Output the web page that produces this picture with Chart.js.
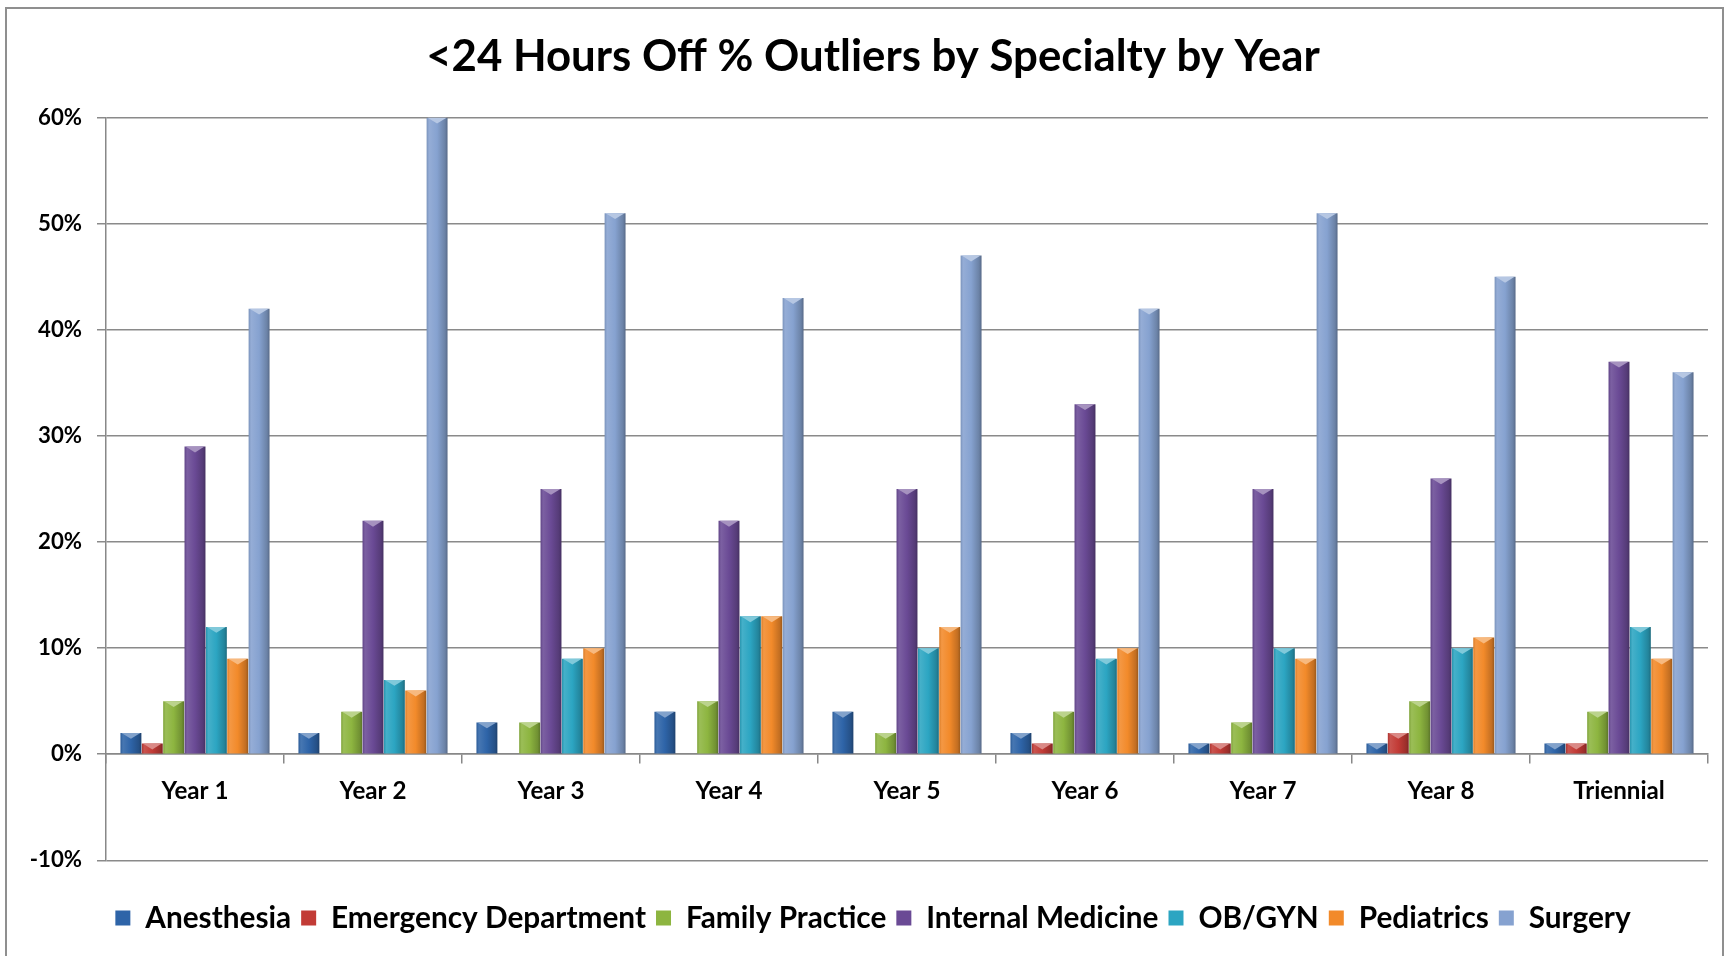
<!DOCTYPE html>
<html><head><meta charset="utf-8">
<script src="https://cdn.jsdelivr.net/npm/chart.js@4.4.0/dist/chart.umd.min.js"></script>
<style>
html,body{margin:0;padding:0;background:#fff;width:1732px;height:956px;overflow:hidden}
#frame{position:absolute;left:5px;top:7px;width:1719px;height:980px;border:2px solid #8f8f8f;box-sizing:border-box}
#wrap{position:absolute;left:0;top:0;width:1732px;height:956px}
</style></head><body>
<div id="frame"></div>
<div id="wrap"><canvas id="c" width="1732" height="956"></canvas></div>
<script>
const categories = ['Year 1','Year 2','Year 3','Year 4','Year 5','Year 6','Year 7','Year 8','Triennial'];
const seriesNames = ['Anesthesia','Emergency Department','Family Practice','Internal Medicine','OB/GYN','Pediatrics','Surgery'];
const anesthesia          = [2, 2, 3, 4, 4, 2, 1, 1, 1];
const emergencyDepartment = [1, 0, 0, 0, 0, 1, 1, 2, 1];
const familyPractice      = [5, 4, 3, 5, 2, 4, 3, 5, 4];
const internalMedicine    = [29, 22, 25, 22, 25, 33, 25, 26, 37];
const obGyn               = [12, 7, 9, 13, 10, 9, 10, 10, 12];
const pediatrics          = [9, 6, 10, 13, 12, 10, 9, 11, 9];
const surgery             = [42, 60, 51, 43, 47, 42, 51, 45, 36];
const yTickValues = [-10, 0, 10, 20, 30, 40, 50, 60];
const seriesColors = ['#2E64A8','#C23B36','#8DB540','#6A4A95','#2CA5C2','#F28A2A','#86A2D0'];
const seriesValues = [anesthesia, emergencyDepartment, familyPractice, internalMedicine, obGyn, pediatrics, surgery];

function fitSize(text, family, weight, target){
  const c = document.createElement('canvas').getContext('2d');
  c.font = weight + ' 100px ' + family;
  return 100 * target / c.measureText(text).width;
}
function shade(hex, amt){
  const n = parseInt(hex.slice(1),16);
  let r=(n>>16)&255, g=(n>>8)&255, b=n&255;
  if (amt>=0){ r=r+(255-r)*amt; g=g+(255-g)*amt; b=b+(255-b)*amt; }
  else { r=r*(1+amt); g=g*(1+amt); b=b*(1+amt); }
  return 'rgb('+Math.round(r)+','+Math.round(g)+','+Math.round(b)+')';
}

const titleSize = fitSize('<24 Hours Off % Outliers by Specialty by Year','Lato','bold',894);
const legendSize = fitSize('Anesthesia','Lato','bold',146);
const xSize = fitSize('Year 1','Lato','bold',67);
const ySize = fitSize('60%','Lato','bold',44);

const bevelPlugin = {
  id:'bevel',
  beforeDatasetsDraw(chart){
    const ctx = chart.ctx;
    chart.data.datasets.forEach((ds, di) => {
      const meta = chart.getDatasetMeta(di);
      meta.data.forEach(el => {
        const p = el.getProps(['x','width'], true);
        const left = p.x - p.width/2;
        const g = ctx.createLinearGradient(left, 0, left + p.width, 0);
        g.addColorStop(0, shade(ds.baseColor, -0.1));
        g.addColorStop(0.12, shade(ds.baseColor, 0.12));
        g.addColorStop(0.5, ds.baseColor);
        g.addColorStop(0.88, shade(ds.baseColor, -0.2));
        g.addColorStop(1, shade(ds.baseColor, -0.35));
        el.options = Object.assign({}, el.options, {backgroundColor: g});
      });
    });
  },
  afterDatasetsDraw(chart){
    const ctx = chart.ctx;
    ctx.save();
    chart.data.datasets.forEach((ds, di) => {
      const meta = chart.getDatasetMeta(di);
      meta.data.forEach(el => {
        const p = el.getProps(['x','y','base','width'], true);
        const h = p.base - p.y;
        if (h < 2) return;
        const left = p.x - p.width/2, right = p.x + p.width/2;
        const d = Math.min(h, p.width*0.28);
        ctx.beginPath();
        ctx.moveTo(left+1, p.y);
        ctx.lineTo(right-1, p.y);
        ctx.lineTo(p.x, p.y + d);
        ctx.closePath();
        ctx.fillStyle = shade(ds.baseColor, 0.4);
        ctx.fill();
      });
    });
    ctx.restore();
  }
};

const padLeft = 26;
const padRight = 12;
const rightGutter = 12;
const titleCenter = 57;

new Chart(document.getElementById('c'), {
  type: 'bar',
  data: {
    labels: categories,
    datasets: seriesNames.map((name, i) => ({
      label: name,
      data: seriesValues[i],
      baseColor: seriesColors[i],
      backgroundColor: seriesColors[i],
      borderWidth: 0,
      barPercentage: 0.98,
      categoryPercentage: 0.84
    }))
  },
  options: {
    responsive: false,
    animation: false,
    devicePixelRatio: 1,
    layout: { padding: { left: padLeft, right: padRight, top: 0, bottom: 13 } },
    plugins: {
      tooltip: { enabled: false },
      title: {
        display: true,
        text: '<24 Hours Off % Outliers by Specialty by Year',
        color: '#000',
        font: { family: 'Lato', weight: 'bold', size: titleSize, lineHeight: 1.2 },
        padding: { top: titleCenter - titleSize*0.6, bottom: 117.7 - titleCenter - titleSize*0.6 }
      },
      subtitle: {
        display: true,
        text: ' ',
        position: 'bottom',
        weight: 500,
        font: { size: 1, lineHeight: 1 },
        padding: { top: 0, bottom: 31.9 }
      },
      legend: {
        position: 'bottom',
        labels: {
          color: '#000',
          font: { family: 'Lato', weight: 'bold', size: legendSize },
          boxWidth: 15,
          boxHeight: 15,
          padding: 10
        }
      }
    },
    scales: {
      x: {
        position: { y: 0 },
        grid: { display: true, drawOnChartArea: false, drawTicks: true, tickLength: 9, color: '#888', lineWidth: 1.5, offset: true },
        border: { display: true, color: '#888', width: 1.5 },
        ticks: { color: '#000', font: { family: 'Lato', weight: 'bold', size: xSize }, padding: 13 }
      },
      y: {
        min: -10,
        max: 60,
        afterBuildTicks(scale){ scale.ticks = yTickValues.map(v => ({ value: v })); },
        afterFit(scale){ scale.width = 106 - padLeft; },
        grid: { color: '#8a8a8a', lineWidth: 1.5, drawTicks: true, tickLength: 9 },
        border: { display: true, color: '#888', width: 1.5 },
        ticks: {
          color: '#000',
          font: { family: 'Lato', weight: 'bold', size: ySize },
          padding: 15,
          callback: v => v + '%'
        }
      },
      yRight: {
        type: 'linear',
        position: 'right',
        display: true,
        grid: { display: false },
        border: { display: false },
        ticks: { display: false },
        afterFit(scale){ scale.width = rightGutter; }
      }
    }
  },
  plugins: [bevelPlugin]
});
</script>
</body></html>
